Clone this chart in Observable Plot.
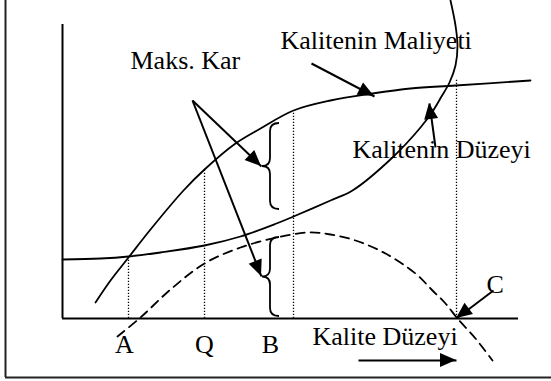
<!DOCTYPE html>
<html>
<head>
<meta charset="utf-8">
<script src="https://cdn.jsdelivr.net/npm/d3@7"></script>
<script src="https://cdn.jsdelivr.net/npm/@observablehq/plot@0.6"></script>
<style>
html, body { margin: 0; padding: 0; background: #fff; }
svg { display: block; }
</style>
</head>
<body>
<div id="chart"></div>
<script>
// Conceptual units: x = quality level, y = amount (origin at the axes corner)
// "Kalitenin Maliyeti" (concave, saturating curve)
const maliyet = [[34,16],[49,38],[67,61],[89,89],[122,128],[143,149],[174,175],[199,190],[232,208],[269,218],[311,225],[349,230],[394,233],[469,238]];
// "Kalitenin Düzeyi" (convex curve bending back at the top)
const duzey = [[1,59],[39,60],[67,62],[99,66],[143,73],[179,82],[215,95],[232,102],[269,118],[291,128],[331,161],[359,191],[371,207],[380,222],[388,236],[394,253],[396,273],[394,293],[389,318]];
// Profit (dashed) curve
const kar = [[56,-18],[79,1],[109,29],[143,55],[179,71],[215,81],[247,86],[269,84],[294,78],[324,65],[354,45],[371,28],[384,15],[396,0],[414,-20],[431,-42]];

// Dotted guide lines
const guides = [
  {name: "A", x: 67, top: 61},
  {name: "Q", x: 143, top: 149},
  {name: "B", x: 232, top: 208},
  {name: "C", x: 395, top: 240}
];
// Axis letters under the x axis
const axisLetters = [
  {text: "A", x: 63},
  {text: "Q", x: 143},
  {text: "B", x: 209}
];
// Annotation texts
const notes = [
  {text: "Maks. Kar", x: 69, y: 250},
  {text: "Kalitenin Maliyeti", x: 219, y: 270},
  {text: "Kalitenin Düzeyi", x: 291, y: 161},
  {text: "Kalite Düzeyi", x: 251, y: -26},
  {text: "C", x: 425, y: 26}
];
// Arrows (tail -> tip)
const arrows = [
  {x1: 131, y1: 218, x2: 200, y2: 152},
  {x1: 131, y1: 218, x2: 200, y2: 42},
  {x1: 250, y1: 255, x2: 313, y2: 222},
  {x1: 374, y1: 171, x2: 368, y2: 215},
  {x1: 432, y1: 28, x2: 395, y2: 0},
  {x1: 297, y1: -42, x2: 395, y2: -42}
];
// Curly braces (Maks. Kar spans)
const braces = [
  {x: 209, top: 195, bottom: 109},
  {x: 209, top: 81, bottom: 2}
];

const FONT = "'Liberation Serif', 'Times New Roman', Times, serif";

const arrowHeads = (index, scales) => {
  const g = d3.create("svg:g").attr("fill", "black");
  for (const a of arrows) {
    const sx = scales.x(a.x1), sy = scales.y(a.y1);
    const tx = scales.x(a.x2), ty = scales.y(a.y2);
    const dx = tx - sx, dy = ty - sy, len = Math.hypot(dx, dy);
    const ux = dx / len, uy = dy / len;
    const L = 16, Wd = 7;
    const bx = tx - ux * L, by = ty - uy * L;
    g.append("path").attr("d",
      `M${tx},${ty}L${bx - uy * Wd},${by + ux * Wd}L${bx + uy * Wd},${by - ux * Wd}Z`);
  }
  return g.node();
};

const braceMark = (index, scales) => {
  const g = d3.create("svg:g").attr("fill", "none").attr("stroke", "black").attr("stroke-width", 1.8);
  for (const b of braces) {
    const X = scales.x(b.x), T = scales.y(b.top), B = scales.y(b.bottom), M = (T + B) / 2;
    const w = 9, p = 8, r = 8;
    g.append("path").attr("d",
      `M${X + w},${T}Q${X},${T} ${X},${T + r}L${X},${M - r}Q${X},${M} ${X - p},${M}` +
      `Q${X},${M} ${X},${M + r}L${X},${B - r}Q${X},${B} ${X + w},${B}`);
  }
  return g.node();
};

const chart = Plot.plot({
  width: 551,
  height: 381,
  marginTop: 0, marginRight: 0, marginBottom: 0, marginLeft: 0,
  x: {domain: [-61, 490], range: [0, 551], axis: null},
  y: {domain: [-63, 318], range: [381, 0], axis: null},
  style: {background: "#fff", fontFamily: FONT, color: "black"},
  marks: [
    // outer frame
    Plot.ruleX([-56], {y1: -59, y2: 318, stroke: "#222", strokeWidth: 2}),
    Plot.ruleY([-59], {x1: -56, x2: 490, stroke: "#222", strokeWidth: 2}),
    // axes
    Plot.ruleX([1], {y1: 0, y2: 294, strokeWidth: 2}),
    Plot.ruleY([0], {x1: 1, x2: 457, strokeWidth: 2}),
    // dotted guides
    Plot.ruleX(guides, {x: "x", y1: 0, y2: "top", strokeWidth: 1.3, strokeDasharray: "1.3,1.7"}),
    // texts
    Plot.text(notes, {x: "x", y: "y", text: "text", textAnchor: "start", lineAnchor: "bottom", fontSize: 26, fontFamily: FONT, fill: "black"}),
    Plot.text(axisLetters, {x: "x", y: -34, text: "text", textAnchor: "middle", lineAnchor: "bottom", fontSize: 26, fontFamily: FONT, fill: "black"}),
    // curves
    Plot.line(maliyet, {x: d => d[0], y: d => d[1], curve: "catmull-rom", strokeWidth: 1.8}),
    Plot.line(duzey, {x: d => d[0], y: d => d[1], curve: "catmull-rom", strokeWidth: 1.8}),
    Plot.line(kar, {x: d => d[0], y: d => d[1], curve: "catmull-rom", strokeWidth: 1.8, strokeDasharray: "9,6"}),
    // braces
    braceMark,
    // arrows
    Plot.link(arrows, {x1: "x1", y1: "y1", x2: "x2", y2: "y2", strokeWidth: 2}),
    arrowHeads
  ]
});
document.getElementById("chart").appendChild(chart);
</script>
</body>
</html>
